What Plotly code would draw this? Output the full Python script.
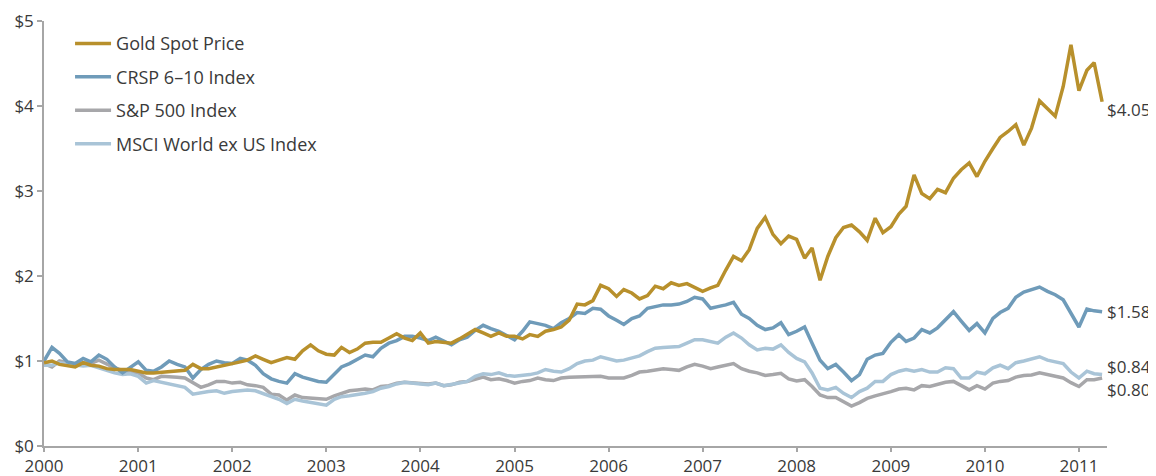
import pandas as pd
import plotly.graph_objects as go

# Monthly observations, Jan 2000 - Apr 2011 (growth of $1)
dates = pd.date_range("2000-01-01", periods=136, freq="MS")

gold = [
    0.98, 1.00, 0.96, 0.94, 0.93, 0.98, 0.95, 0.94, 0.91, 0.90, 0.90, 0.90,
    0.88, 0.86, 0.86, 0.87, 0.88, 0.88, 0.89, 0.96, 0.91, 0.91, 0.93, 0.94,
    0.97, 0.99, 1.01, 1.06, 1.02, 0.98, 1.01, 1.04, 1.02, 1.12, 1.19, 1.12,
    1.08, 1.07, 1.16, 1.10, 1.14, 1.21, 1.22, 1.22, 1.27, 1.32, 1.27, 1.24,
    1.33, 1.21, 1.23, 1.22, 1.21, 1.26, 1.31, 1.37, 1.33, 1.29, 1.33, 1.29,
    1.29, 1.26, 1.31, 1.29, 1.35, 1.37, 1.40, 1.48, 1.67, 1.66, 1.71, 1.89,
    1.85, 1.76, 1.84, 1.80, 1.73, 1.77, 1.88, 1.85, 1.92, 1.89, 1.91, 1.86,
    1.82, 1.86, 1.89, 2.07, 2.23, 2.18, 2.31, 2.56, 2.69, 2.49, 2.38, 2.47,
    2.43, 2.21, 2.33, 1.95, 2.23, 2.45, 2.57, 2.60, 2.52, 2.42, 2.68, 2.51,
    2.58, 2.73, 2.82, 3.19, 2.97, 2.91, 3.02, 2.98, 3.15, 3.25, 3.33, 3.17,
    3.35, 3.50, 3.63, 3.70, 3.78, 3.54, 3.74, 4.06, 3.97, 3.88, 4.23, 4.72,
    4.18, 4.42, 4.51, 4.05,
]

crsp = [
    1.00, 1.16, 1.09, 0.99, 0.97, 1.03, 0.99, 1.07, 1.02, 0.93, 0.86, 0.92,
    0.99, 0.89, 0.88, 0.93, 1.00, 0.96, 0.93, 0.80, 0.90, 0.96, 1.00, 0.98,
    0.97, 1.03, 1.01, 0.95, 0.85, 0.79, 0.76, 0.74, 0.85, 0.81, 0.78, 0.76,
    0.75, 0.84, 0.93, 0.97, 1.02, 1.07, 1.05, 1.15, 1.21, 1.24, 1.29, 1.29,
    1.27, 1.24, 1.28, 1.23, 1.19, 1.25, 1.28, 1.36, 1.42, 1.38, 1.35, 1.30,
    1.25, 1.35, 1.46, 1.44, 1.42, 1.38, 1.45, 1.50, 1.57, 1.56, 1.62, 1.61,
    1.53, 1.48, 1.43, 1.50, 1.53, 1.62, 1.64, 1.66, 1.66, 1.67, 1.70, 1.75,
    1.73, 1.62, 1.64, 1.66, 1.69, 1.55, 1.50, 1.42, 1.37, 1.39, 1.45, 1.31,
    1.35, 1.40, 1.21, 1.01, 0.91, 0.96, 0.87, 0.77, 0.84, 1.02, 1.07, 1.09,
    1.22, 1.31, 1.23, 1.27, 1.37, 1.33, 1.39, 1.49, 1.58, 1.47, 1.36, 1.44,
    1.33, 1.50, 1.57, 1.62, 1.75, 1.81, 1.84, 1.87, 1.82, 1.78, 1.72, 1.56,
    1.40, 1.61, 1.59, 1.58,
]

sp500 = [
    0.97, 0.93, 1.00, 0.98, 0.96, 0.98, 0.97, 1.01, 0.96, 0.92, 0.89, 0.88,
    0.86, 0.80, 0.78, 0.82, 0.82, 0.81, 0.80, 0.74, 0.69, 0.72, 0.76, 0.76,
    0.74, 0.75, 0.72, 0.71, 0.69, 0.61, 0.60, 0.54, 0.60, 0.57, 0.56, 0.55,
    0.55, 0.59, 0.62, 0.65, 0.66, 0.67, 0.66, 0.70, 0.71, 0.74, 0.75, 0.745,
    0.74, 0.73, 0.74, 0.71, 0.72, 0.75, 0.76, 0.78, 0.81, 0.78, 0.79, 0.77,
    0.74, 0.76, 0.77, 0.80, 0.78, 0.77, 0.80, 0.81, 0.81, 0.815, 0.82, 0.82,
    0.80, 0.80, 0.80, 0.83, 0.87, 0.88, 0.89, 0.91, 0.90, 0.89, 0.93, 0.96,
    0.94, 0.91, 0.93, 0.95, 0.97, 0.91, 0.88, 0.86, 0.83, 0.84, 0.855, 0.79,
    0.765, 0.78, 0.70, 0.60, 0.57, 0.57, 0.52, 0.47, 0.51, 0.56, 0.59, 0.61,
    0.64, 0.67, 0.68, 0.66, 0.71, 0.70, 0.72, 0.75, 0.76, 0.71, 0.66, 0.71,
    0.67, 0.74, 0.76, 0.77, 0.81, 0.83, 0.835, 0.86, 0.84, 0.83, 0.80, 0.745,
    0.70, 0.78, 0.78, 0.80,
]

msci = [
    0.95, 0.95, 0.98, 0.97, 0.95, 0.94, 0.95, 0.92, 0.88, 0.86, 0.84, 0.85,
    0.82, 0.74, 0.77, 0.75, 0.73, 0.71, 0.69, 0.61, 0.63, 0.64, 0.65, 0.62,
    0.64, 0.65, 0.66, 0.65, 0.62, 0.58, 0.55, 0.50, 0.55, 0.53, 0.51, 0.50,
    0.48, 0.55, 0.58, 0.59, 0.60, 0.62, 0.64, 0.68, 0.70, 0.73, 0.75, 0.745,
    0.73, 0.72, 0.74, 0.71, 0.72, 0.74, 0.76, 0.82, 0.85, 0.84, 0.86, 0.83,
    0.82, 0.83, 0.84, 0.86, 0.90, 0.88, 0.87, 0.91, 0.97, 1.00, 1.01, 1.05,
    1.02, 1.00, 1.01, 1.04, 1.06, 1.11, 1.15, 1.16, 1.16, 1.17, 1.21, 1.25,
    1.25, 1.23, 1.21, 1.28, 1.33, 1.27, 1.19, 1.13, 1.15, 1.14, 1.19, 1.10,
    1.03, 0.99, 0.86, 0.68, 0.66, 0.69, 0.62, 0.57, 0.64, 0.68, 0.76, 0.76,
    0.84, 0.88, 0.90, 0.88, 0.90, 0.87, 0.87, 0.92, 0.91, 0.80, 0.80, 0.87,
    0.85, 0.92, 0.95, 0.91, 0.98, 1.00, 1.02, 1.05, 1.01, 0.99, 0.97, 0.87,
    0.80, 0.88, 0.85, 0.84,
]

y_ticks = [0, 1, 2, 3, 4, 5]
y_tick_labels = ["$0", "$1", "$2", "$3", "$4", "$5"]

FONT = "Open Sans"
TXT = "#3a3a3a"
AXIS = "#a6a6a6"

# drawing order (bottom -> top) with legend ranks and end-label offsets
series = [
    ("S&P 500 Index", sp500, "#a7a7aa", 3, -11),
    ("MSCI World ex US Index", msci, "#a9c4d7", 4, 8),
    ("CRSP 6–10 Index", crsp, "#6f9bb9", 2, 0),
    ("Gold Spot Price", gold, "#b8902c", 1, -8),
]

fig = go.Figure()
for name, vals, color, rank, yshift in series:
    fig.add_trace(go.Scatter(
        x=dates, y=vals, mode="lines", name=name,
        line=dict(color=color, width=3.5),
        legendrank=rank, legendgroup=name,
    ))
    fig.add_annotation(
        x=dates[-1], y=vals[-1], text=f"${vals[-1]:.2f}",
        showarrow=False, xanchor="left", yanchor="middle",
        xshift=3, yshift=yshift,
        font=dict(family=FONT, size=17, color=TXT),
    )

# page body has an 8px margin: figure is sized/offset to land on the 1156x476 view
fig.update_layout(
    width=1148, height=468,
    margin=dict(l=36, r=49, t=13, b=30),
    paper_bgcolor="white", plot_bgcolor="white",
    font=dict(family=FONT, size=17, color=TXT),
    showlegend=True,
    legend=dict(
        x=0.0245, y=0.99, xanchor="left", yanchor="top",
        bgcolor="rgba(0,0,0,0)", borderwidth=0,
        font=dict(family=FONT, size=18, color=TXT),
        tracegroupgap=7, traceorder="grouped", itemwidth=36,
    ),
    xaxis=dict(
        range=["2000-01-01", "2011-04-20"],
        dtick="M12", tick0="2000-01-01", tickformat="%Y",
        showline=True, linecolor=AXIS, linewidth=1.5,
        ticks="outside", ticklen=4, tickcolor=AXIS, tickwidth=1.5,
        showgrid=False, zeroline=False, automargin=False,
        tickfont=dict(family=FONT, size=17, color=TXT),
    ),
    yaxis=dict(
        range=[0, 5], tickmode="array", tickvals=y_ticks, ticktext=y_tick_labels,
        showline=True, linecolor=AXIS, linewidth=1.5,
        ticks="outside", ticklen=5, tickcolor=AXIS, tickwidth=1.5,
        showgrid=False, zeroline=False, automargin=False,
        tickfont=dict(family=FONT, size=17, color=TXT),
    ),
)

fig.write_html("out.html")
